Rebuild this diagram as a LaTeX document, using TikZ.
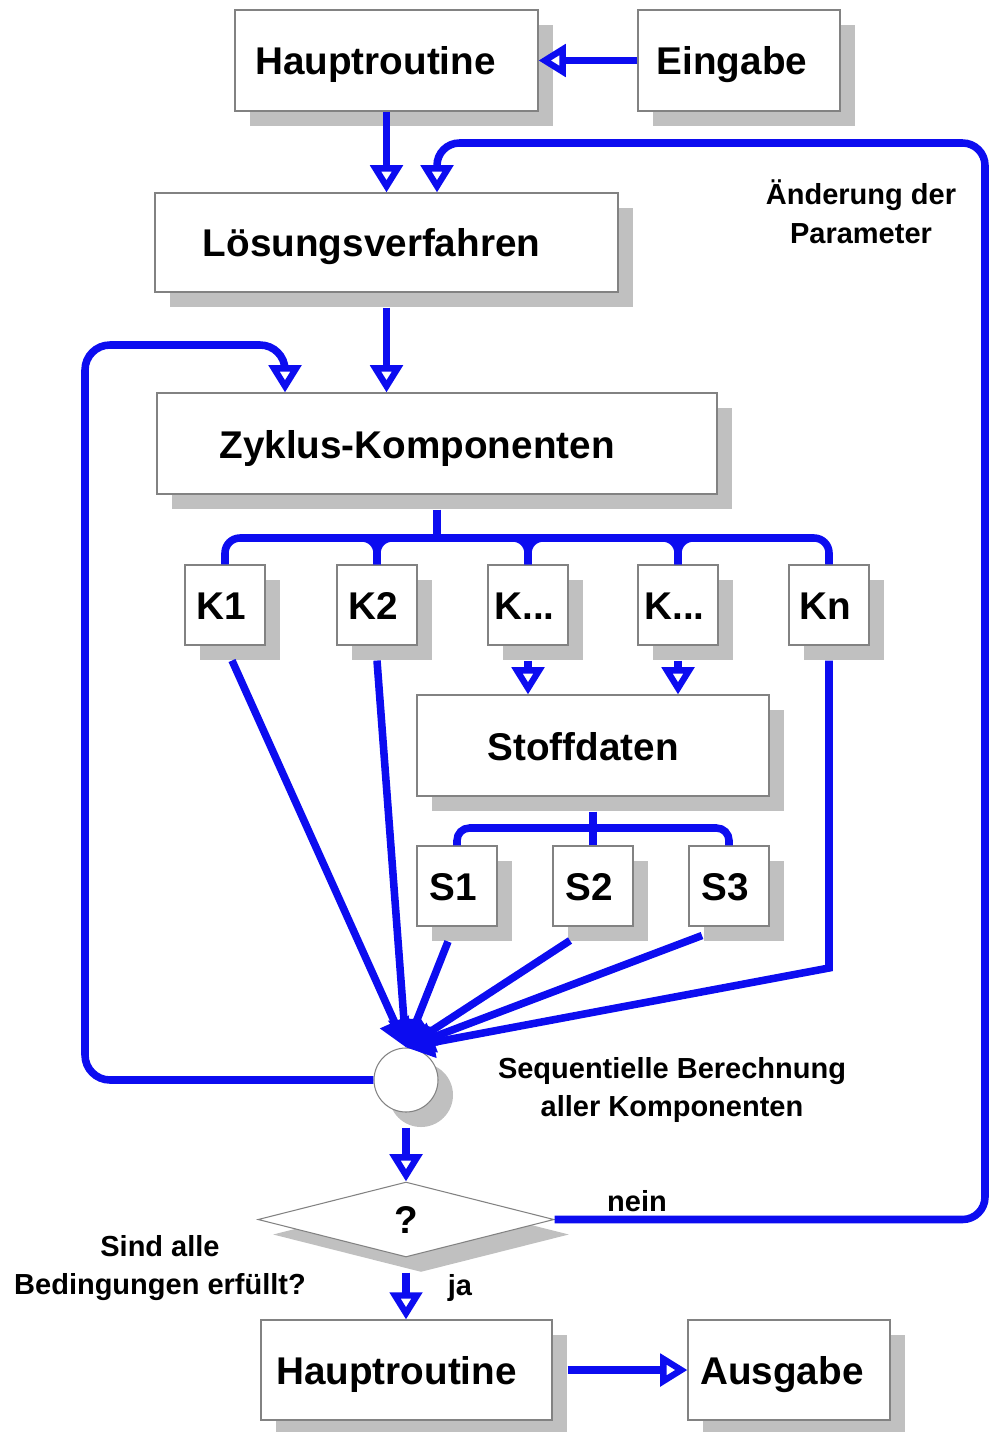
\documentclass[tikz,border=0pt]{standalone}
\usepackage{fontspec}
\setmainfont{Liberation Sans}
\usetikzlibrary{arrows.meta,shapes.geometric,shadows,calc}

\definecolor{flow}{RGB}{12,12,240}
\definecolor{shade}{RGB}{192,192,192}
\definecolor{rim}{RGB}{130,130,130}

% pull box text a little to the left
\newcommand\tsh[1]{\hspace*{-#1pt}}

\tikzset{
  shadowed/.style={drop shadow={shadow xshift=0.3cm, shadow yshift=-0.3cm, fill=shade, opacity=1}},
  box/.style={shadowed, draw=rim, line width=0.6pt, fill=white, inner sep=0pt,
              text height=16.5pt, text depth=0pt,
              font=\fontsize{22}{26}\selectfont\bfseries},
  bigbox/.style={box, minimum height=2.02cm},
  kbox/.style={box, minimum width=1.6cm, minimum height=1.6cm},
  joint/.style={circle, shadowed, draw=rim, line width=0.6pt, fill=white,
                minimum size=1.28cm, inner sep=0pt},
  test/.style={diamond, shadowed, draw=rim, line width=0.6pt, fill=white, inner sep=0pt,
               minimum width=5.92cm, minimum height=1.5cm,
               font=\fontsize{22}{26}\selectfont\bfseries},
  flowline/.style={draw=flow, line width=4.3pt},
  arr/.style={flowline, -{Triangle[open, fill=white, length=15.5pt, width=18pt, line width=3.6pt]}},
  feed/.style={flowline, -{Triangle[length=16pt, width=17pt]}},
  note/.style={font=\fontsize{16.5}{22}\selectfont\bfseries, align=center, inner sep=0pt},
}

\begin{document}
\begin{tikzpicture}
\useasboundingbox (0,0) rectangle (19.82,-28.64);

% boxes
\node[bigbox, minimum width=6.06cm] (main) at (7.73,-1.21) {\tsh{12.5}Hauptroutine};
\node[bigbox, minimum width=4.04cm] (input) at (14.78,-1.21) {\tsh{8}Eingabe};
\node[bigbox, minimum width=9.26cm, minimum height=1.98cm] (solver) at (7.73,-4.85) {\tsh{17}Lösungsverfahren};
\node[bigbox, minimum width=11.2cm] (cycle) at (8.74,-8.87) {\tsh{22.7}Zyklus-Komponenten};

\node[kbox] (k1) at (4.50,-12.1) {\tsh{4}K1};
\node[kbox] (k2) at (7.54,-12.1) {\tsh{4}K2};
\node[kbox] (k3) at (10.56,-12.1) {\tsh{4}K...};
\node[kbox] (k4) at (13.56,-12.1) {\tsh{4}K...};
\node[kbox] (kn) at (16.58,-12.1) {\tsh{4}Kn};

\node[bigbox, minimum width=7.04cm] (props) at (11.86,-14.91) {\tsh{11.3}Stoffdaten};

\node[kbox] (s1) at (9.14,-17.72) {\tsh{4}S1};
\node[kbox] (s2) at (11.86,-17.72) {\tsh{4}S2};
\node[kbox] (s3) at (14.58,-17.72) {\tsh{4}S3};

\node[joint] (seq) at (8.12,-21.6) {};
\node[test] (check) at (8.12,-24.39) {?};

\node[bigbox, minimum width=5.82cm, minimum height=2.0cm] (main2) at (8.13,-27.4) {\tsh{11.3}Hauptroutine};
\node[bigbox, minimum width=4.04cm, minimum height=2.0cm] (output) at (15.78,-27.4) {\tsh{8}Ausgabe};

% labels
\node[note] (chg) at (17.22,-4.24) {Änderung der\\Parameter};
\node[note] (seqlbl) at (13.44,-21.8) {Sequentielle Berechnung\\aller Komponenten};
\node[note] (no) at (12.74,-24.02) {nein};
\node[note] (cond) at (3.2,-25.36) {Sind alle\\Bedingungen erfüllt?};
\node[note] (yes) at (9.2,-25.76) {ja};

% routing points
\coordinate (fbtop) at (19.7,-2.86);
\coordinate (loopcorner) at (1.7,-6.9);
\coordinate (kbus) at (8.74,-10.76);
\coordinate (sbus) at (11.86,-16.56);
\coordinate (knbend) at (16.58,-19.36);

% main chain
\draw[arr] (input) -- (main);
\draw[arr] (main) -- (solver);
\draw[arr] ([yshift=-0.3cm]solver.south) -- (solver.south |- cycle.north);

% parameter feedback
\draw[arr, rounded corners=0.45cm] (check.east) -- (check.east -| fbtop) -- (fbtop) -| ($(solver.north)+(1.01,0)$);

% component loop
\draw[arr, rounded corners=0.5cm] (seq.west) -| (loopcorner) -| ($(cycle.north)+(-3.04,0)$);

% component bus
\draw[flowline] ([yshift=-0.3cm]cycle.south) -- (kbus);
\draw[flowline, rounded corners=0.3cm] (k1.north) |- (kbus) -| (kn.north);
\foreach \k in {k2,k3,k4}{
  \draw[flowline, rounded corners=0.3cm] ($(\k.north |- kbus)+(-0.6,0)$) -| (\k.north);
  \draw[flowline, rounded corners=0.3cm] ($(\k.north |- kbus)+(0.6,0)$) -| (\k.north);
}

% property data
\draw[arr] ([yshift=-0.3cm]k3.south) -- (k3.south |- props.north);
\draw[arr] ([yshift=-0.3cm]k4.south) -- (k4.south |- props.north);
\draw[flowline] ([yshift=-0.3cm]props.south) -- (sbus);
\draw[flowline, rounded corners=0.25cm] (s1.north) |- (sbus) -| (s3.north);
\draw[flowline] (s2.north) -- (sbus);

% sequential evaluation
\draw[feed] ($(k1.south)+(0.14,-0.3)$) -- (seq.north);
\draw[feed] ($(k2.south)+(0,-0.3)$) -- (seq.north);
\draw[feed] ($(s1.south)+(-0.18,-0.3)$) -- (seq.north);
\draw[feed] ($(s2.south)+(-0.46,-0.28)$) -- (seq.north);
\draw[feed] ($(s3.south)+(-0.54,-0.18)$) -- (seq.north);
\draw[feed] ([yshift=-0.3cm]kn.south) -- (knbend) -- (seq.north);

% decision and output
\draw[arr] ([yshift=-0.3cm]seq.south) -- (check.north);
\draw[arr] ([yshift=-0.3cm]check.south) -- (check.south |- main2.north);
\draw[arr] ([xshift=0.3cm]main2.east) -- (output.west);
\end{tikzpicture}
\end{document}
